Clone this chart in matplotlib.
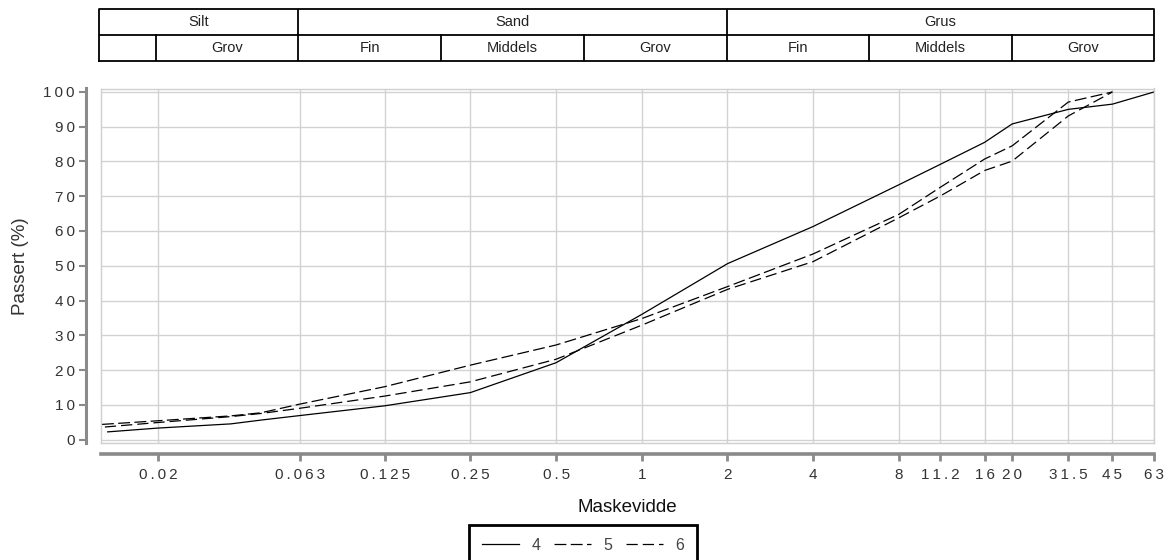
import matplotlib
matplotlib.use("Agg")
import matplotlib.pyplot as plt
from matplotlib.ticker import FixedLocator, NullLocator, NullFormatter

plt.rcParams['font.family'] = ['Liberation Sans', 'DejaVu Sans']

# ---- data ----
sizes_4 = [0.0133, 0.02, 0.036, 0.046, 0.063, 0.125, 0.25, 0.5, 1, 2, 4, 8, 11.2, 16, 20, 31.5, 45, 63]
pass_4 = [2.2, 3.3, 4.5, 5.6, 6.9, 9.7, 13.5, 22.1, 36.0, 50.6, 61.3, 73.3, 79.2, 85.5, 90.8, 95.0, 96.5, 100]

sizes_5 = [0.0127, 0.02, 0.036, 0.046, 0.063, 0.125, 0.25, 0.5, 1, 2, 4, 8, 11.2, 16, 20, 31.5, 45]
pass_5 = [4.35, 5.4, 6.8, 7.7, 10.2, 15.2, 21.4, 27.2, 34.8, 44.0, 53.4, 64.8, 72.6, 80.7, 84.5, 97.1, 100]

sizes_6 = [0.0130, 0.02, 0.036, 0.046, 0.063, 0.125, 0.25, 0.5, 1, 2, 4, 8, 11.2, 16, 20, 31.5, 45]
pass_6 = [3.6, 4.9, 6.6, 7.5, 9.0, 12.5, 16.6, 23.1, 32.9, 43.2, 51.2, 63.8, 70.1, 77.4, 80.1, 93.1, 100]

x_ticks = [0.02, 0.063, 0.125, 0.25, 0.5, 1, 2, 4, 8, 11.2, 16, 20, 31.5, 45, 63]
x_tick_labels = ["0.02", "0.063", "0.125", "0.25", "0.5", "1", "2", "4", "8", "11.2", "16", "20", "31.5", "45", "63"]
y_ticks = [0, 10, 20, 30, 40, 50, 60, 70, 80, 90, 100]

# classification table
row1_bounds = [0.0126, 0.063, 2, 63]
row1_labels = ["Silt", "Sand", "Grus"]
row2_bounds = [0.0126, 0.02, 0.063, 0.2, 0.63, 2, 6.3, 20, 63]
row2_labels = ["", "Grov", "Fin", "Middels", "Grov", "Fin", "Middels", "Grov"]

x_min, x_max = 0.0126, 63

W, H = 1172, 560
fig = plt.figure(figsize=(W / 100, H / 100), dpi=100)

def fx(px):
    return px / W

def fy(py):
    return 1 - py / H

def spaced(s):
    # the reference draws tick labels with wide letter spacing
    return '\u2009'.join(list(s))

# main axes
left, right, top, bottom = 101, 1154, 88.5, 443
ax = fig.add_axes([fx(left), fy(bottom), fx(right - left), (bottom - top) / H])
ax.set_xscale('log')
ax.set_xlim(x_min, x_max)
ax.set_ylim(-1, 101)

grid_c = '#d2d2d2'
for t in x_ticks:
    ax.axvline(t, color=grid_c, lw=1.0, zorder=0)
for t in y_ticks:
    ax.axhline(t, color=grid_c, lw=1.0, zorder=0)

l4, = ax.plot(sizes_4, pass_4, color='black', lw=0.9, ls='-', label='4')
l5, = ax.plot(sizes_5, pass_5, color='black', lw=0.9, ls=(0, (9.5, 3.5)), label='5')
l6, = ax.plot(sizes_6, pass_6, color='black', lw=0.9, ls=(0, (9.0, 4.0)), label='6')

spine_c = '#8a8a8a'
frame_c = '#cfcfcf'
for s in ['top', 'right']:
    ax.spines[s].set_color(frame_c)
    ax.spines[s].set_linewidth(1.0)
ax.spines['left'].set_position(('outward', 11))
ax.spines['bottom'].set_position(('outward', 8))
ax.spines['left'].set_color(spine_c)
ax.spines['bottom'].set_color(spine_c)
ax.spines['left'].set_linewidth(2.2)
ax.spines['bottom'].set_linewidth(2.6)
# light inner frame on left/bottom
ax.plot([0, 0], [0, 1], transform=ax.transAxes, color=frame_c, lw=1.0, clip_on=False)
ax.plot([0, 1], [0, 0], transform=ax.transAxes, color=frame_c, lw=1.0, clip_on=False)

ax.xaxis.set_major_locator(FixedLocator(x_ticks))
ax.set_xticklabels([spaced(s) for s in x_tick_labels])
ax.xaxis.set_minor_locator(NullLocator())
ax.xaxis.set_minor_formatter(NullFormatter())
ax.set_yticks(y_ticks)
ax.set_yticklabels([spaced(str(v)) for v in y_ticks])
ax.tick_params(axis='x', length=5, width=2, color=spine_c, labelsize=11, labelcolor='#333333', pad=5)
ax.tick_params(axis='y', length=5, width=1.5, color=spine_c, labelsize=11, labelcolor='#333333', pad=3)

ax.set_xlabel('Maskevidde', fontsize=13.5, color='#111111', labelpad=12)
ax.set_ylabel('Passert (%)', fontsize=13.5, color='#333333', labelpad=10)

leg = fig.legend(handles=[l4, l5, l6], labels=['4', '5', '6'], loc='upper left',
                 bbox_to_anchor=(fx(469), fy(525)), ncol=3, frameon=True, framealpha=1.0,
                 fontsize=11.5, handlelength=2.3, columnspacing=0.85, handletextpad=0.8,
                 borderpad=0.8, borderaxespad=0, fancybox=False)
leg.get_frame().set_edgecolor('black')
leg.get_frame().set_linewidth(2.0)
for t in leg.get_texts():
    t.set_color('#444444')

# table axes
t_top, t_bot = 9, 60.5
tax = fig.add_axes([fx(left - 2), fy(t_bot), fx(right - left + 2), (t_bot - t_top) / H])
tax.set_xscale('log')
tax.set_xlim(x_min, x_max)
tax.set_ylim(0, 2)
tax.axis('off')
lw_t = 1.3
tax.plot([x_min, x_max, x_max, x_min, x_min], [0, 0, 2, 2, 0], color='black', lw=lw_t, clip_on=False)
tax.plot([x_min, x_max], [1, 1], color='black', lw=lw_t)
for b in row1_bounds[1:-1]:
    tax.plot([b, b], [1, 2], color='black', lw=lw_t)
for b in row2_bounds[1:-1]:
    tax.plot([b, b], [0, 1], color='black', lw=lw_t)
for i, lab in enumerate(row1_labels):
    xc = (row1_bounds[i] * row1_bounds[i + 1]) ** 0.5
    tax.text(xc, 1.5, lab, ha='center', va='center', fontsize=10.5, color='#222222')
for i, lab in enumerate(row2_labels):
    xc = (row2_bounds[i] * row2_bounds[i + 1]) ** 0.5
    tax.text(xc, 0.5, lab, ha='center', va='center', fontsize=10.5, color='#222222')

fig.savefig('out.png', dpi=100)
